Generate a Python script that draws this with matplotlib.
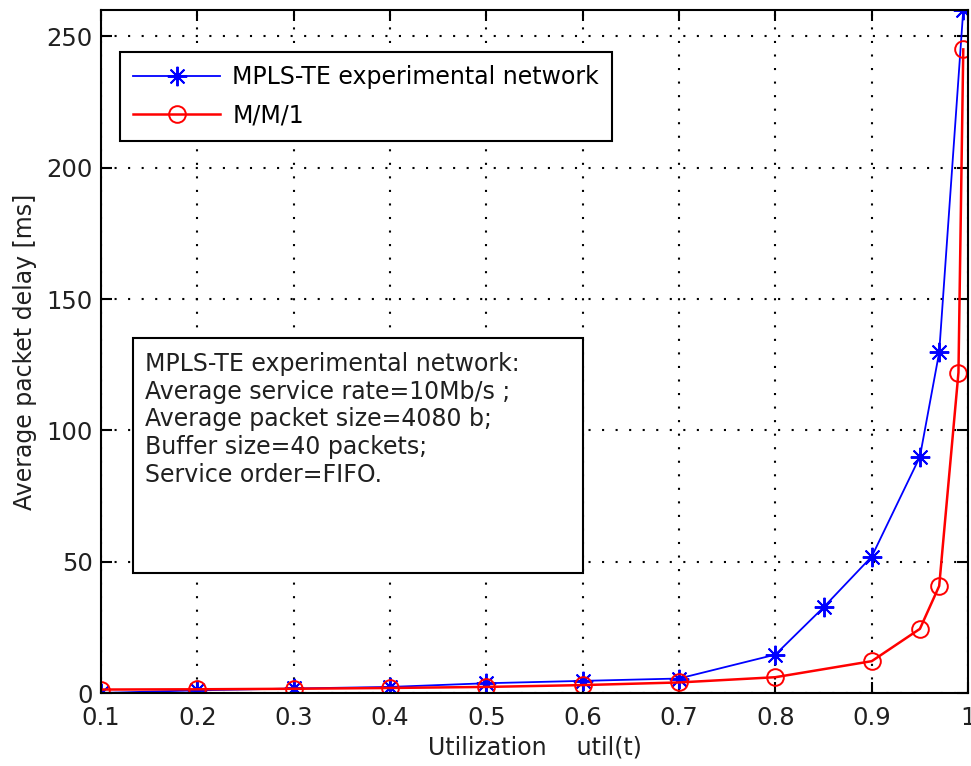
import matplotlib
matplotlib.use('Agg')
import matplotlib.pyplot as plt
from matplotlib.patches import Rectangle

plt.rcParams['font.family'] = ['DejaVu Sans']

# utilization values and measured / theoretical delays [ms]
util_mpls = [0.1, 0.2, 0.3, 0.4, 0.5, 0.6, 0.7, 0.8, 0.85, 0.9, 0.95, 0.97, 0.995]
delay_mpls = [0.1, 1.1, 1.8, 2.4, 3.8, 4.7, 5.6, 14.7, 32.7, 52, 90, 129.7, 260]

util_mm1 = [0.1, 0.2, 0.3, 0.4, 0.5, 0.6, 0.7, 0.8, 0.9, 0.95, 0.97, 0.99, 0.995]
delay_mm1 = [1.4, 1.5, 1.7, 2.0, 2.4, 3.1, 4.1, 6.1, 12.2, 24.5, 40.8, 122, 245]

xticks = [0.1, 0.2, 0.3, 0.4, 0.5, 0.6, 0.7, 0.8, 0.9, 1.0]
xtick_labels = ['0.1', '0.2', '0.3', '0.4', '0.5', '0.6', '0.7', '0.8', '0.9', '1']
yticks = [0, 50, 100, 150, 200, 250]

info = ['MPLS-TE experimental network:',
        'Average service rate=10Mb/s ;',
        'Average packet size=4080 b;',
        'Buffer size=40 packets;',
        'Service order=FIFO.']

fig = plt.figure(figsize=(9.71, 7.66), dpi=100)
ax = fig.add_axes([0.104, 0.095, 0.893, 0.892])

ax.plot(util_mpls, delay_mpls, color='blue', marker=(8, 2, 0), markersize=14,
        markeredgewidth=1.4, linewidth=1.3, label='MPLS-TE experimental network')
ax.plot(util_mm1, delay_mm1, color='red', marker='o', markersize=12,
        markerfacecolor='none', markeredgewidth=1.4, linewidth=1.8, label='M/M/1')

ax.set_xlim(0.1, 1.0)
ax.set_ylim(0, 260)
ax.set_xticks(xticks)
ax.set_xticklabels(xtick_labels)
ax.set_yticks(yticks)
ax.tick_params(direction='in', top=True, right=True, length=8, width=1.5,
               labelsize=17.5, colors='black', labelcolor='#202020')
ax.tick_params(axis='x', pad=9)
ax.tick_params(axis='y', pad=6)
ax.grid(True, linestyle=(0, (1, 5.5)), color='black', linewidth=1.5)
for s in ax.spines.values():
    s.set_linewidth(1.5)

ax.set_xlabel('Utilization    util(t)', fontsize=17, labelpad=4, color='#202020')
ax.set_ylabel('Average packet delay [ms]', fontsize=17, labelpad=7, color='#202020')

leg = ax.legend(loc='upper left', bbox_to_anchor=(0.022, 0.9385), fontsize=17,
                fancybox=False, framealpha=1, edgecolor='black',
                handlelength=3.7, handletextpad=0.5, borderpad=0.55,
                labelspacing=0.62, borderaxespad=0)
leg.get_frame().set_linewidth(1.5)

# info box (fixed size, like the reference)
ax.add_patch(Rectangle((0.037, 0.176), 0.519, 0.344, transform=ax.transAxes,
                       facecolor='white', edgecolor='black', linewidth=1.5,
                       zorder=5))
for i, line in enumerate(info):
    ax.text(0.051, 0.482 - i * 0.0405, line, transform=ax.transAxes,
            fontsize=17, va='center', ha='left', color='#202020', zorder=6)

fig.savefig('out.png', dpi=100)
